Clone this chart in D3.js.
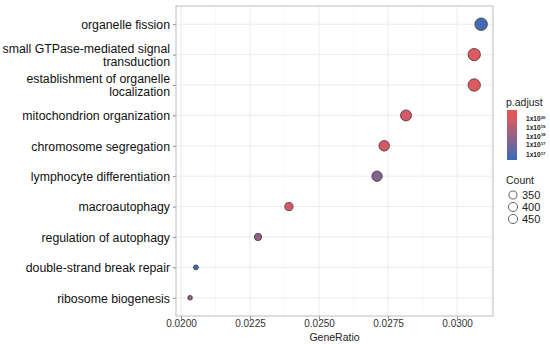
<!DOCTYPE html>
<html><head><meta charset="utf-8">
<script src="https://cdn.jsdelivr.net/npm/d3@7"></script>
<style>
html,body{margin:0;padding:0;background:#fff;}
text{font-family:"Liberation Sans",Arial,Helvetica,sans-serif;}
</style></head>
<body><svg id="chart" width="550" height="344"></svg>
<script>
// ---- data ----
const categories = [
  "organelle fission",
  "small GTPase-mediated signal transduction",
  "establishment of organelle localization",
  "mitochondrion organization",
  "chromosome segregation",
  "lymphocyte differentiation",
  "macroautophagy",
  "regulation of autophagy",
  "double-strand break repair",
  "ribosome biogenesis"
];
const geneRatio = [0.03087, 0.03062, 0.03062, 0.02815, 0.02736, 0.02710, 0.02391, 0.02279, 0.02054, 0.02033];
const counts    = [457, 453, 453, 417, 405, 401, 354, 337, 304, 301];
const pAdjustLog10 = [-17.1, -19.9, -19.9, -19.8, -19.7, -18.3, -19.8, -18.6, -16.9, -18.7];
const xTicks = [0.0200, 0.0225, 0.0250, 0.0275, 0.0300];
const colorTickValues = [-19.77, -19.14, -18.55, -17.95, -17.25];
const colorTickExp = ["20", "19", "18", "17", "17"];
const sizeLegendValues = [350, 400, 450];

// ---- layout ----
const svg = d3.select("#chart");
const panel = {left:176, right:493, top:6, bottom:316};

const x = d3.scaleLinear().domain([0.01982, 0.0313]).range([panel.left, panel.right]);
const y = d3.scalePoint().domain(categories).range([panel.top, panel.bottom]).padding(0.6);
const r = d3.scaleRadial().domain([300, 460]).range([2.3, 6.3]);
const color = d3.scaleLinear().domain([-20, -16.9]).range(["#E2575C", "#3A6DB8"]).interpolate(d3.interpolateRgb).clamp(true);

// panel background + grid
const g = svg.append("g");
g.append("rect").attr("x", panel.left).attr("y", panel.top)
  .attr("width", panel.right-panel.left).attr("height", panel.bottom-panel.top).attr("fill", "#fff");
const minorTicks = d3.range(0.01875, 0.0315, 0.00125).filter(v => v > x.domain()[0] && v < x.domain()[1]);
g.selectAll(".minor").data(minorTicks.filter(v => !xTicks.some(t => Math.abs(t-v) < 1e-7))).join("line")
  .attr("x1", d => x(d)).attr("x2", d => x(d)).attr("y1", panel.top).attr("y2", panel.bottom)
  .attr("stroke", "#F3F3F3").attr("stroke-width", 0.6);
g.selectAll(".major").data(xTicks).join("line")
  .attr("x1", d => x(d)).attr("x2", d => x(d)).attr("y1", panel.top).attr("y2", panel.bottom)
  .attr("stroke", "#EAEAEA").attr("stroke-width", 0.9);
g.selectAll(".hgrid").data(categories).join("line")
  .attr("x1", panel.left).attr("x2", panel.right).attr("y1", d => y(d)).attr("y2", d => y(d))
  .attr("stroke", "#EAEAEA").attr("stroke-width", 0.9);

// axes
const xAxis = svg.append("g").attr("transform", `translate(0,${panel.bottom})`)
  .call(d3.axisBottom(x).tickValues(xTicks).tickFormat(d3.format(".4f")).tickSize(3).tickPadding(1));
xAxis.select(".domain").remove();
xAxis.selectAll("line").attr("stroke", "#888");
xAxis.selectAll("text").attr("fill", "#333").attr("font-size", 10);

const yAxis = svg.append("g").attr("transform", `translate(${panel.left},0)`)
  .call(d3.axisLeft(y).tickSize(3).tickPadding(3).tickFormat(""));
yAxis.select(".domain").remove();
yAxis.selectAll("line").attr("stroke", "#888");

function wrap(s, n) {
  const words = s.split(" "); const lines = []; let cur = "";
  words.forEach(w => { const t = cur ? cur + " " + w : w; if (t.length > n && cur) { lines.push(cur); cur = w; } else cur = t; });
  lines.push(cur); return lines;
}
const lh = 12.8;
yAxis.selectAll(".tick").each(function(d) {
  const lines = wrap(d, 28);
  const t = d3.select(this).append("text").attr("x", -6).attr("text-anchor", "end")
    .attr("fill", "#111").attr("font-size", 12.3);
  lines.forEach((ln, i) => {
    t.append("tspan").attr("x", -6).attr("y", (i - (lines.length-1)/2) * lh).attr("dy", "0.35em").text(ln);
  });
});

// panel border
svg.append("rect").attr("x", panel.left).attr("y", panel.top)
  .attr("width", panel.right-panel.left).attr("height", panel.bottom-panel.top)
  .attr("fill", "none").attr("stroke", "#BDBDBD").attr("stroke-width", 1);

// points
const data = categories.map((c, i) => ({c, gr: geneRatio[i], n: counts[i], p: pAdjustLog10[i]}));
svg.append("g").selectAll("circle").data(data).join("circle")
  .attr("cx", d => x(d.gr)).attr("cy", d => y(d.c)).attr("r", d => r(d.n))
  .attr("fill", d => color(d.p)).attr("stroke", "#3a3a3a").attr("stroke-width", 0.8);

// x title
svg.append("text").attr("x", (panel.left+panel.right)/2).attr("y", 340.5).attr("text-anchor", "middle")
  .attr("font-size", 10.5).attr("fill", "#222").text("GeneRatio");

// color legend
const lg = svg.append("g");
lg.append("text").attr("x", 506).attr("y", 106).attr("font-size", 10.5).attr("fill", "#222").text("p.adjust");
const defs = svg.append("defs");
const grad = defs.append("linearGradient").attr("id", "cbar").attr("x1", 0).attr("x2", 0).attr("y1", 0).attr("y2", 1);
const cy = d3.scaleLinear().domain([-20.4, -16.9]).range([110, 160]);
d3.range(0, 1.0001, 0.1).forEach(t => {
  const v = cy.domain()[0] + t * (cy.domain()[1] - cy.domain()[0]);
  grad.append("stop").attr("offset", t).attr("stop-color", color(v));
});
lg.append("rect").attr("x", 507).attr("y", 110).attr("width", 10).attr("height", 50).attr("fill", "url(#cbar)");
colorTickValues.forEach((v, i) => {
  const t = lg.append("text").attr("x", 526).attr("y", cy(v) + 2.3).attr("font-size", 6.6)
    .attr("font-weight", "bold").attr("fill", "#222");
  t.append("tspan").text("1x10");
  t.append("tspan").attr("dy", -2.6).attr("font-size", 4.4).text(colorTickExp[i]);
});

// size legend
lg.append("text").attr("x", 506).attr("y", 184).attr("font-size", 10.5).attr("fill", "#222").text("Count");
sizeLegendValues.forEach((v, i) => {
  const yy = 195 + i * 12;
  lg.append("circle").attr("cx", 513).attr("cy", yy).attr("r", Math.min(r(v), 4.6))
    .attr("fill", "none").attr("stroke", "#444").attr("stroke-width", 0.8);
  lg.append("text").attr("x", 522).attr("y", yy + 4).attr("font-size", 11).attr("fill", "#222").text(v);
});
</script></body></html>
